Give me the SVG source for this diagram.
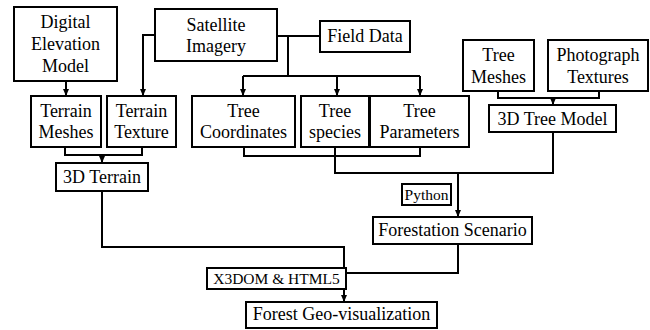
<svg xmlns="http://www.w3.org/2000/svg" width="650" height="330" viewBox="0 0 650 330">
<style>
.b{fill:#fff;stroke:#000;stroke-width:2}
text{font-family:'Liberation Serif','Times New Roman',Tinos,serif;font-size:18px;text-anchor:middle;fill:#000}
.s{font-size:15.5px}
.c{fill:none;stroke:#000;stroke-width:2}
</style>
<defs>
<marker id="a" markerUnits="userSpaceOnUse" markerWidth="7" markerHeight="7" viewBox="0 0 7 7" refX="7" refY="3.5" orient="auto">
<path d="M0,0.5 L7,3.5 L0,6.5 Z" fill="#000"/>
</marker>
</defs>
<rect width="650" height="330" fill="#fff"/>
<g id="connectors">
<path class="c" d="M66,81 V96" marker-end="url(#a)"/>
<path class="c" d="M155,35 H143 V96" marker-end="url(#a)"/>
<path class="c" d="M277,36 H320"/>
<path class="c" d="M288,36 V76 M243,76 H420"/>
<path class="c" d="M243,76 V96" marker-end="url(#a)"/>
<path class="c" d="M337,76 V96" marker-end="url(#a)"/>
<path class="c" d="M420,76 V96" marker-end="url(#a)"/>
<path class="c" d="M65,147 V155 H142 V147"/>
<path class="c" d="M102,155 V163" marker-end="url(#a)"/>
<path class="c" d="M102,191 V247 H344 V302" marker-end="url(#a)"/>
<path class="c" d="M244,147 V156 H420 V147"/>
<path class="c" d="M335,147 V173 H553 V132"/>
<path class="c" d="M458,173 V217" marker-end="url(#a)"/>
<path class="c" d="M498,91 V98 H599 V91"/>
<path class="c" d="M553,98 V105" marker-end="url(#a)"/>
<path class="c" d="M458,244 V273 H346"/>
</g>
<g id="dem"><rect class="b" x="14" y="7" width="103" height="74"/><text x="65.5" y="28">Digital</text><text x="65.5" y="50">Elevation</text><text x="65.5" y="72">Model</text></g>
<g id="satellite"><rect class="b" x="155" y="9" width="122" height="52"/><text x="216" y="31">Satellite</text><text x="216" y="52">Imagery</text></g>
<g id="field"><rect class="b" x="320" y="21" width="90" height="31"/><text x="365" y="42">Field Data</text></g>
<g id="treemeshes"><rect class="b" x="463" y="40" width="71" height="51"/><text x="498.5" y="61">Tree</text><text x="498.5" y="83">Meshes</text></g>
<g id="photo"><rect class="b" x="548" y="40" width="100" height="51"/><text x="598" y="61">Photograph</text><text x="598" y="83">Textures</text></g>
<g id="treemodel"><rect class="b" x="489" y="105" width="127" height="27"/><text x="552.5" y="125">3D Tree Model</text></g>
<g id="tmeshes"><rect class="b" x="31" y="96" width="70" height="51"/><text x="66" y="117">Terrain</text><text x="66" y="138">Meshes</text></g>
<g id="ttexture"><rect class="b" x="107" y="96" width="69" height="51"/><text x="141.5" y="117">Terrain</text><text x="141.5" y="138">Texture</text></g>
<g id="coords"><rect class="b" x="192" y="96" width="103" height="51"/><text x="243.5" y="117">Tree</text><text x="243.5" y="138">Coordinates</text></g>
<g id="species"><rect class="b" x="301" y="96" width="68" height="51"/><text x="335" y="117">Tree</text><text x="335" y="138">species</text></g>
<g id="params"><rect class="b" x="370" y="96" width="99" height="51"/><text x="419.5" y="117">Tree</text><text x="419.5" y="138">Parameters</text></g>
<g id="terrain"><rect class="b" x="56" y="163" width="92" height="28"/><text x="102" y="183">3D Terrain</text></g>
<g id="python"><rect class="b" x="402" y="184" width="49" height="21"/><text class="s" x="426.5" y="200">Python</text></g>
<g id="scenario"><rect class="b" x="373" y="217" width="159" height="27"/><text x="452.5" y="236">Forestation Scenario</text></g>
<g id="x3dom"><rect class="b" x="207" y="268" width="139" height="21"/><text class="s" x="276.5" y="284">X3DOM &amp; HTML5</text></g>
<g id="geo"><rect class="b" x="246" y="302" width="191" height="26"/><text x="341.5" y="320">Forest Geo-visualization</text></g>
</svg>
